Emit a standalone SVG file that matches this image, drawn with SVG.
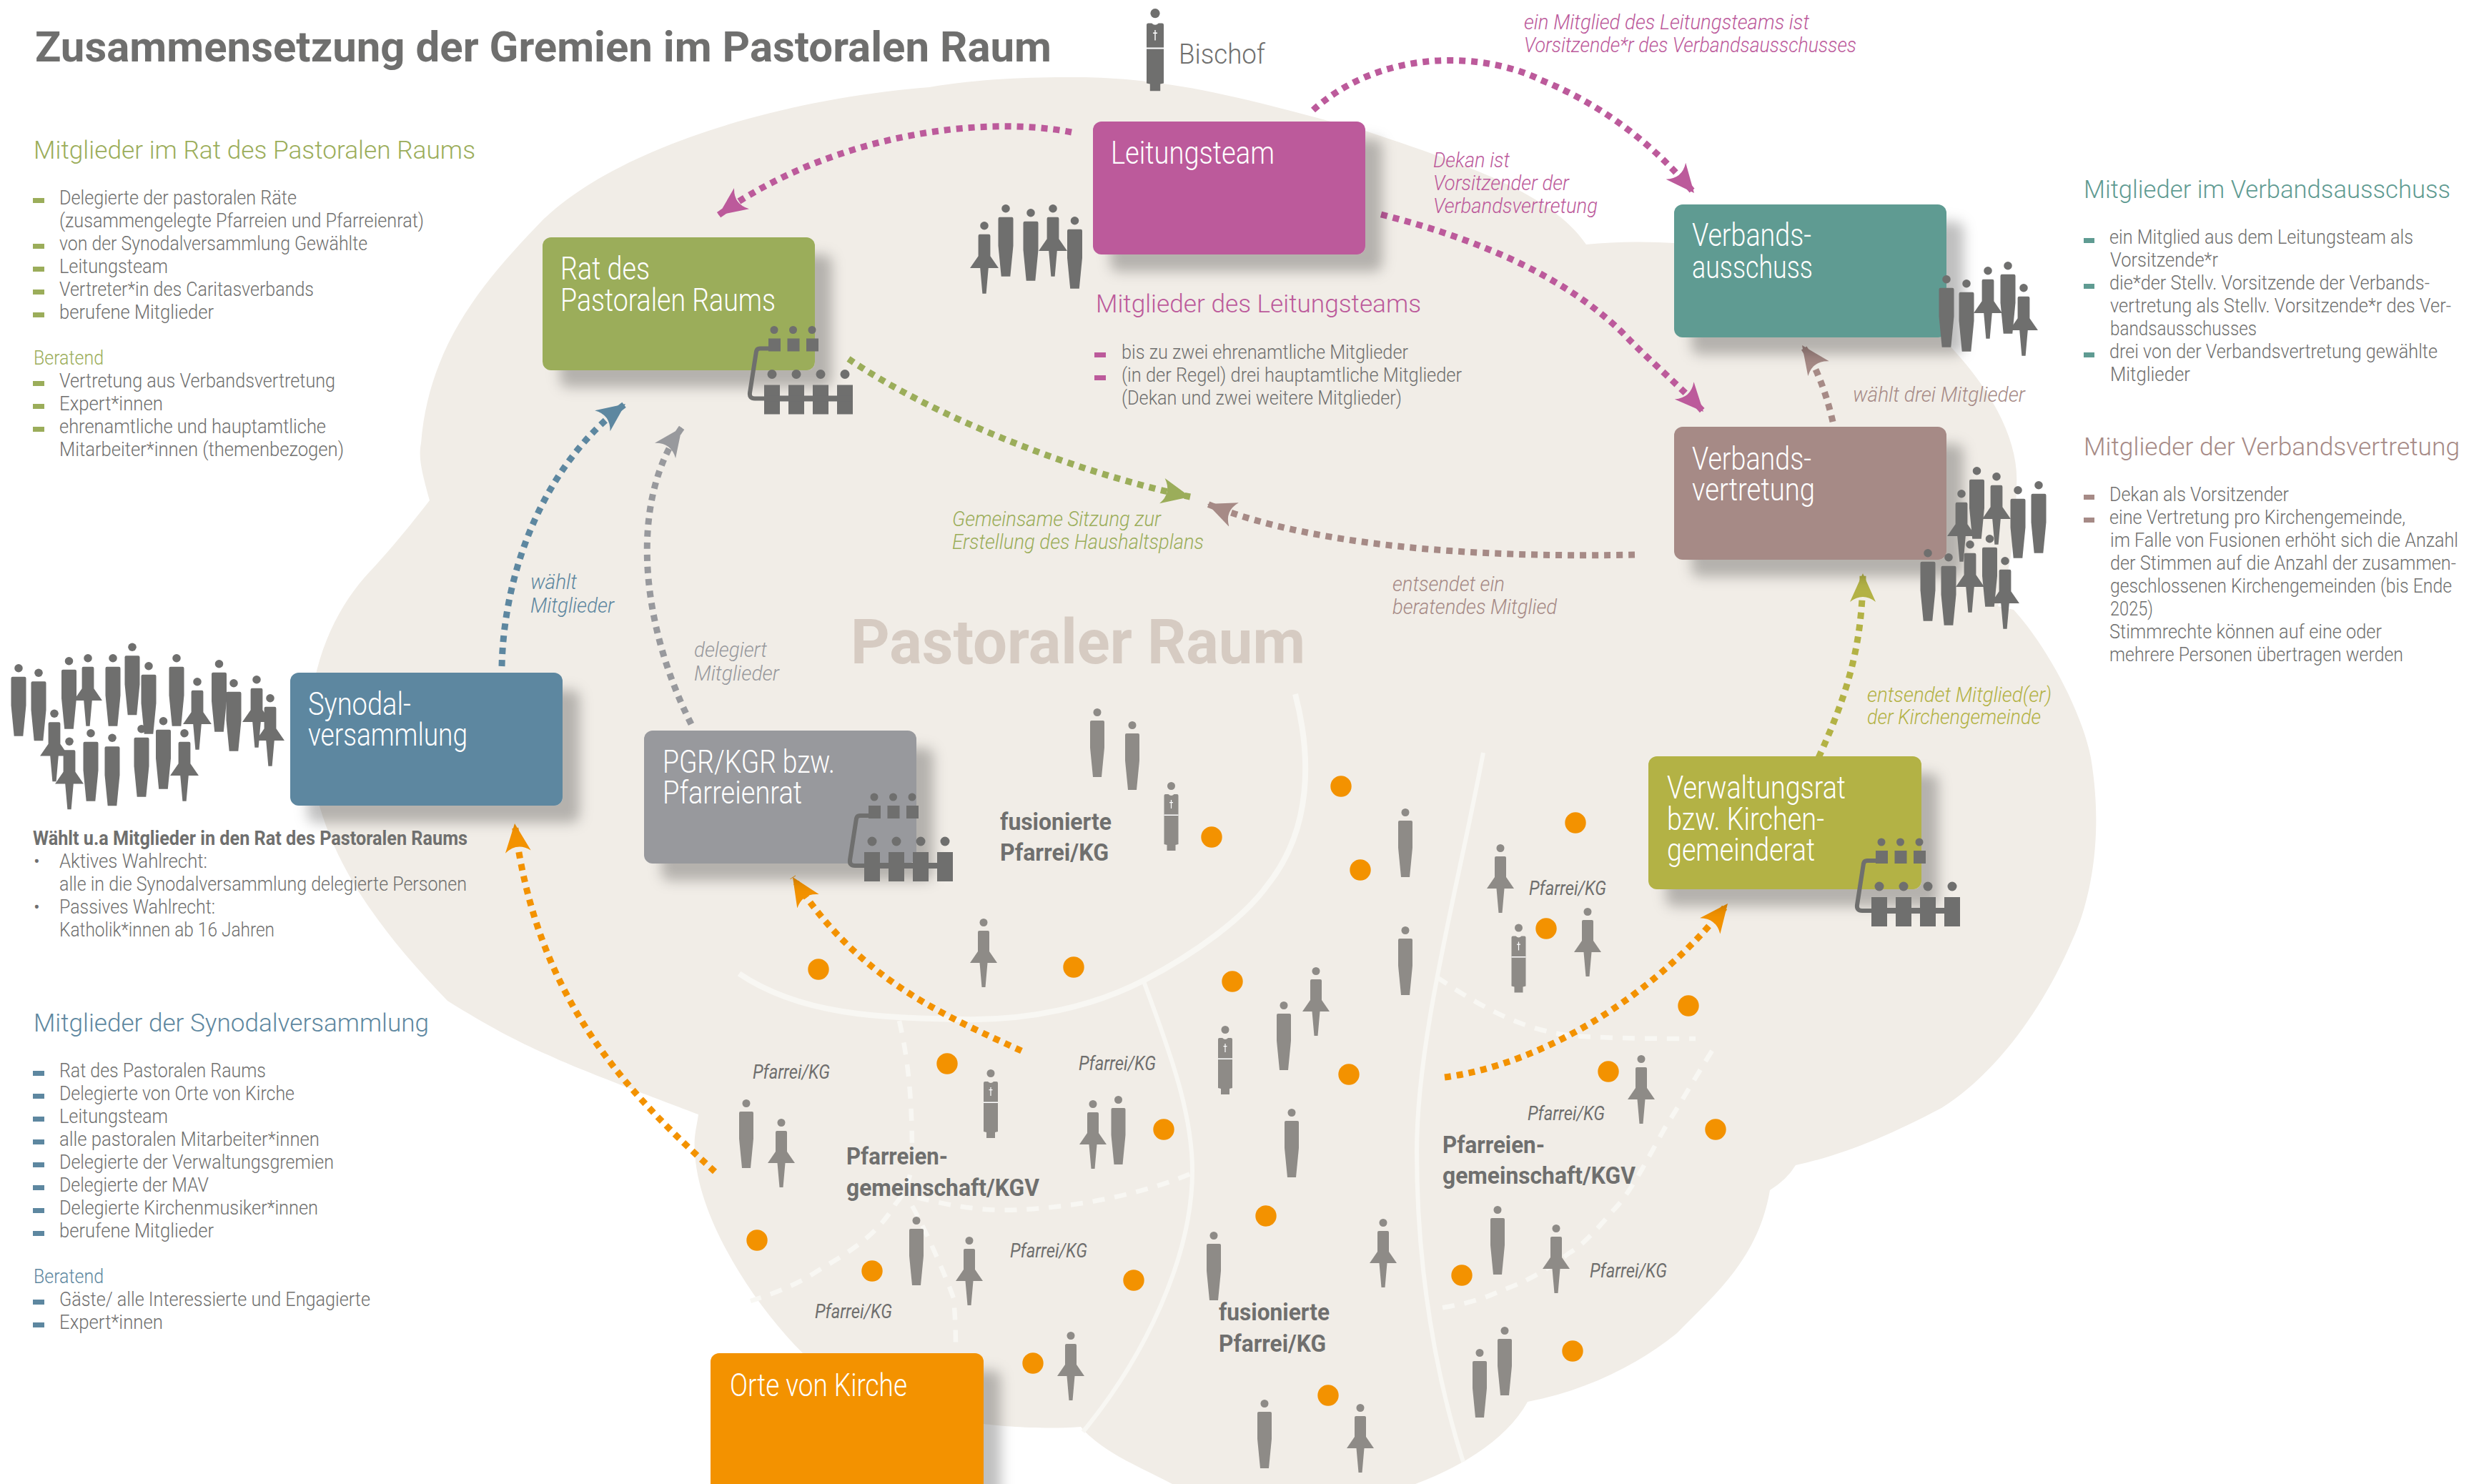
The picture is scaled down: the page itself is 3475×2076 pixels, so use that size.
<svg xmlns="http://www.w3.org/2000/svg" width="3475" height="2076" viewBox="0 0 3475 2076">
<style>
text{font-family:Roboto,"Liberation Sans",sans-serif;fill:#6f6f6e;font-weight:300;transform:translateY(1.5px)}
.t{font-size:60px;font-weight:700}
.h{font-size:35px}
.i{font-size:27px}
.b{font-size:44px;fill:#fff;transform:translateY(3px)}
.s{font-size:33px;font-weight:700}
.p{font-size:27px;font-style:italic;font-weight:400}
.n{font-size:30px;font-style:italic}
.gn{fill:#9bad5a}.pu{fill:#bc5a9b}.te{fill:#5f9b92}.br{fill:#a68a86}.bl{fill:#5d87a0}.gr{fill:#98999d}.ol{fill:#b3b245}
.k{fill:#6f6f6e}.q{fill:#8e8b87}
.wl{fill:none;stroke:#f8f7f3}
.wd{fill:none;stroke:#f8f7f3;stroke-width:6.5;stroke-dasharray:17 14}
.a{fill:none;stroke-width:9;stroke-dasharray:9 8}
.dot{fill:#f39200}
</style>
<defs>
<filter id="sh" x="-15%" y="-15%" width="140%" height="150%"><feDropShadow dx="24" dy="24" stdDeviation="9" flood-color="#000" flood-opacity=".25"/></filter>
<marker id="mpu" markerUnits="userSpaceOnUse" markerWidth="50" markerHeight="50" refX="40" refY="20" orient="auto"><path d="M40 20L0 2Q14 20 0 38Z" fill="#bc5a9b"/></marker>
<marker id="mgn" markerUnits="userSpaceOnUse" markerWidth="50" markerHeight="50" refX="40" refY="20" orient="auto"><path d="M40 20L0 2Q14 20 0 38Z" fill="#9bad5a"/></marker>
<marker id="mbr" markerUnits="userSpaceOnUse" markerWidth="50" markerHeight="50" refX="40" refY="20" orient="auto"><path d="M40 20L0 2Q14 20 0 38Z" fill="#a68a86"/></marker>
<marker id="mol" markerUnits="userSpaceOnUse" markerWidth="50" markerHeight="50" refX="40" refY="20" orient="auto"><path d="M40 20L0 2Q14 20 0 38Z" fill="#b3b245"/></marker>
<marker id="mbl" markerUnits="userSpaceOnUse" markerWidth="50" markerHeight="50" refX="40" refY="20" orient="auto"><path d="M40 20L0 2Q14 20 0 38Z" fill="#5d87a0"/></marker>
<marker id="mgr" markerUnits="userSpaceOnUse" markerWidth="50" markerHeight="50" refX="40" refY="20" orient="auto"><path d="M40 20L0 2Q14 20 0 38Z" fill="#98999d"/></marker>
<marker id="mor" markerUnits="userSpaceOnUse" markerWidth="50" markerHeight="50" refX="40" refY="20" orient="auto"><path d="M40 20L0 2Q14 20 0 38Z" fill="#f39200"/></marker>
<g id="m"><ellipse cx="0" cy="5.5" rx="5.5" ry="5.5"/><path d="M-10 19Q-10 17-8 17H8Q10 17 10 19V55L6 96H-6L-10 55Z"/></g>
<g id="w"><ellipse cx="0" cy="5.5" rx="5.5" ry="5.5"/><path d="M-8 19Q-8 17-6 17H6Q8 17 8 19V46L19 62H5.5L2.5 96H-2.5L-5.5 62H-19L-8 46Z"/></g>
<g id="c"><ellipse cx="0" cy="5.5" rx="5.5" ry="5.5"/><path d="M-10 19Q-10 17-8 17H-4Q0 21 4 17H8Q10 17 10 19V87L6 88V96H-6V88L-10 87Z"/><path d="M-.6 25H.6V37H-.6ZM-2.5 28H2.5V29.2H-2.5ZM-10 45.5H10V47H-10Z" fill="#fff"/></g>
<g id="seats" class="k">
<circle cx="0" cy="0" r="5.5"/><circle cx="26.5" cy="0" r="5.5"/><circle cx="53" cy="0" r="5.5"/>
<rect x="-8" y="12" width="17" height="18"/><rect x="18.5" y="12" width="17" height="18"/><rect x="45" y="12" width="17" height="18"/>
<circle cx="-3" cy="62" r="6.5"/><circle cx="31" cy="62" r="6.5"/><circle cx="65" cy="62" r="6.5"/><circle cx="99" cy="62" r="6.5"/>
<rect x="-14" y="77" width="22" height="41"/><rect x="20" y="77" width="22" height="41"/><rect x="54" y="77" width="22" height="41"/><rect x="88" y="77" width="22" height="41"/>
<rect x="-14" y="92" width="124" height="8"/>
<path d="M-8 26H-20Q-24 26-25 30L-34 88Q-35 96-27 96H-14" fill="none" stroke="#6f6f6e" stroke-width="6"/>
</g>
</defs>

<path id="blob" fill="#f1ede7" d="M1300 122C1370 110 1440 108 1503 108C1640 108 1750 140 1910 183C2050 230 2170 270 2219 342C2280 336 2340 338 2400 345C2500 350 2660 400 2727 483C2790 550 2825 620 2821 680C2820 750 2810 810 2795 848L2817 853C2860 900 2911 990 2925 1060C2945 1180 2920 1270 2900 1313C2850 1430 2780 1510 2716 1550C2640 1590 2580 1615 2512 1630Q2500 1650 2476 1665C2460 1760 2400 1810 2346 1865C2290 1910 2220 1945 2137 1961C2110 2010 2050 2050 1980 2076L1640 2076C1590 2050 1540 2030 1512 1996C1460 2000 1400 1995 1376 1992C1280 1975 1190 1950 1123 1893C1050 1820 975 1700 972 1610C970 1590 975 1575 977 1559C940 1545 820 1500 776 1480C730 1460 690 1440 626 1400C520 1290 440 1180 432 1040C430 930 470 850 517 800C545 770 570 740 601 700C590 660 585 640 589 620C600 480 680 390 759 308C860 210 1080 140 1300 122Z"/>

<g id="parish-lines">
<path class="wl" stroke-width="8" d="M1812 971C1835 1060 1835 1160 1774 1237C1740 1285 1670 1335 1601 1371C1530 1408 1440 1428 1346 1426C1230 1424 1120 1420 1034 1362"/>
<path class="wl" stroke-width="6" d="M1600 1373C1640 1480 1668 1560 1668 1638C1668 1760 1600 1900 1515 2003"/>
<path class="wl" stroke-width="6" d="M2075 1053C2040 1240 1982 1450 1982 1610C1982 1780 2010 1930 2047 2045"/>
<path class="wd" d="M1258 1428C1275 1500 1276 1570 1276 1620C1275 1650 1265 1670 1253 1684C1225 1730 1190 1750 1142 1779C1110 1800 1080 1810 1050 1820"/>
<path class="wd" d="M1276 1687C1295 1720 1325 1790 1334 1816C1337 1850 1337 1870 1337 1889"/>
<path class="wd" d="M1283 1675C1340 1690 1390 1695 1430 1692C1510 1688 1600 1670 1668 1641"/>
<path class="wd" d="M2010 1367C2060 1400 2120 1440 2200 1449C2260 1453 2320 1453 2372 1453"/>
<path class="wd" d="M2395 1470C2370 1510 2350 1545 2329 1578C2300 1630 2280 1670 2257 1693C2230 1725 2210 1745 2195 1753C2160 1780 2130 1795 2101 1805C2070 1820 2040 1826 2007 1831"/>
</g>

<g id="title"><text class="t" x="49" y="84" textLength="1422" lengthAdjust="spacingAndGlyphs">Zusammensetzung der Gremien im Pastoralen Raum</text></g>
<g id="center-label"><text x="1190" y="926" font-size="88" style="fill:#d6cbc2;font-weight:700" textLength="636" lengthAdjust="spacingAndGlyphs">Pastoraler Raum</text></g>

<g id="dots">
<circle class="dot" cx="1145" cy="1356" r="14.7"/><circle class="dot" cx="1502" cy="1353" r="14.7"/><circle class="dot" cx="1876" cy="1100" r="14.7"/><circle class="dot" cx="1695" cy="1171" r="14.7"/><circle class="dot" cx="1903" cy="1217" r="14.7"/><circle class="dot" cx="1724" cy="1373" r="14.7"/><circle class="dot" cx="1325" cy="1488" r="14.7"/><circle class="dot" cx="1887" cy="1503" r="14.7"/><circle class="dot" cx="2204" cy="1151" r="14.7"/><circle class="dot" cx="2163" cy="1299" r="14.7"/><circle class="dot" cx="2362" cy="1407" r="14.7"/><circle class="dot" cx="2250" cy="1499" r="14.7"/><circle class="dot" cx="1628" cy="1580" r="14.7"/><circle class="dot" cx="1059" cy="1735" r="14.7"/><circle class="dot" cx="1220" cy="1778" r="14.7"/><circle class="dot" cx="1586" cy="1791" r="14.7"/><circle class="dot" cx="1771" cy="1701" r="14.7"/><circle class="dot" cx="1445" cy="1907" r="14.7"/><circle class="dot" cx="1858" cy="1952" r="14.7"/><circle class="dot" cx="2400" cy="1580" r="14.7"/><circle class="dot" cx="2045" cy="1784" r="14.7"/><circle class="dot" cx="2200" cy="1890" r="14.7"/>
</g>

<g id="parish-people" class="q">
<use href="#m" x="1535" y="991"/><use href="#m" x="1584" y="1009"/><use href="#c" x="1638.5" y="1094"/><use href="#w" x="1376" y="1285"/><use href="#c" x="1714" y="1435"/><use href="#m" x="1796" y="1401"/><use href="#w" x="1841" y="1353"/><use href="#c" x="1386" y="1496"/><use href="#m" x="1044" y="1538"/><use href="#w" x="1093" y="1565"/><use href="#w" x="1529" y="1539"/><use href="#m" x="1564.5" y="1533"/><use href="#m" x="1807" y="1551"/><use href="#m" x="1282" y="1702"/><use href="#w" x="1356" y="1730"/><use href="#m" x="1698" y="1723"/><use href="#w" x="1498" y="1863"/><use href="#m" x="1769" y="1958"/><use href="#w" x="1903" y="1964"/><use href="#m" x="1966" y="1131"/><use href="#w" x="2099" y="1181"/><use href="#c" x="2124.5" y="1292.5"/><use href="#w" x="2221" y="1270"/><use href="#m" x="1966" y="1296"/><use href="#w" x="2296" y="1476"/><use href="#m" x="2095" y="1687"/><use href="#w" x="2177" y="1713"/><use href="#w" x="1935" y="1705"/><use href="#m" x="2070" y="1887"/><use href="#m" x="2105" y="1856"/>
</g>

<g id="parish-labels">
<text class="p" x="1053" y="1507" textLength="108" lengthAdjust="spacingAndGlyphs">Pfarrei/KG</text>
<text class="p" x="1509" y="1495" textLength="108" lengthAdjust="spacingAndGlyphs">Pfarrei/KG</text>
<text class="p" x="2139" y="1250" textLength="108" lengthAdjust="spacingAndGlyphs">Pfarrei/KG</text>
<text class="p" x="1413" y="1757" textLength="108" lengthAdjust="spacingAndGlyphs">Pfarrei/KG</text>
<text class="p" x="1140" y="1842" textLength="108" lengthAdjust="spacingAndGlyphs">Pfarrei/KG</text>
<text class="p" x="2137" y="1565" textLength="108" lengthAdjust="spacingAndGlyphs">Pfarrei/KG</text>
<text class="p" x="2224" y="1785" textLength="108" lengthAdjust="spacingAndGlyphs">Pfarrei/KG</text>
<text class="s" x="1399" y="1159" textLength="156" lengthAdjust="spacingAndGlyphs">fusionierte</text>
<text class="s" x="1399" y="1202" textLength="152" lengthAdjust="spacingAndGlyphs">Pfarrei/KG</text>
<text class="s" x="1184" y="1627" textLength="142" lengthAdjust="spacingAndGlyphs">Pfarreien-</text>
<text class="s" x="1184" y="1671" textLength="270" lengthAdjust="spacingAndGlyphs">gemeinschaft/KGV</text>
<text class="s" x="1705" y="1845" textLength="155" lengthAdjust="spacingAndGlyphs">fusionierte</text>
<text class="s" x="1705" y="1889" textLength="150" lengthAdjust="spacingAndGlyphs">Pfarrei/KG</text>
<text class="s" x="2018" y="1611" textLength="143" lengthAdjust="spacingAndGlyphs">Pfarreien-</text>
<text class="s" x="2018" y="1654" textLength="270" lengthAdjust="spacingAndGlyphs">gemeinschaft/KGV</text>
</g>

<g id="connectors">
<path class="a" stroke="#bc5a9b" marker-end="url(#mpu)" d="M1499 185C1370 160 1160 190 1005 301"/>
<path class="a" stroke="#bc5a9b" marker-end="url(#mpu)" d="M1837 154C1930 70 2070 70 2156 112C2250 150 2320 210 2370 270"/>
<path class="a" stroke="#bc5a9b" marker-end="url(#mpu)" d="M1932 300C2070 335 2200 390 2282 478C2325 520 2355 545 2383 576"/>
<path class="a" stroke="#9bad5a" marker-end="url(#mgn)" d="M1187 502C1300 580 1500 660 1665 695"/>
<path class="a" stroke="#a68a86" marker-end="url(#mbr)" d="M2287 776C2100 780 1850 770 1689 705"/>
<path class="a" stroke="#a68a86" marker-end="url(#mbr)" d="M2564 590C2555 550 2540 510 2521 483"/>
<path class="a" stroke="#b3b245" marker-end="url(#mol)" d="M2544 1060C2585 970 2606 900 2606 802"/>
<path class="a" stroke="#5d87a0" marker-end="url(#mbl)" d="M702 932C705 800 760 650 875 565"/>
<path class="a" stroke="#98999d" marker-end="url(#mgr)" d="M967 1013C895 870 880 700 954 598"/>
<path class="a" stroke="#f39200" marker-end="url(#mor)" d="M1000 1639C880 1530 750 1400 720 1152"/>
<path class="a" stroke="#f39200" marker-end="url(#mor)" d="M1429 1470C1320 1420 1200 1370 1109 1227"/>
<path class="a" stroke="#f39200" marker-end="url(#mor)" d="M2021 1507C2150 1490 2310 1400 2417 1264"/>
</g>

<g id="connector-labels">
<text class="n pu" x="2132" y="39" textLength="399" lengthAdjust="spacingAndGlyphs">ein Mitglied des Leitungsteams ist</text>
<text class="n pu" x="2132" y="71" textLength="465" lengthAdjust="spacingAndGlyphs">Vorsitzende*r des Verbandsausschusses</text>
<text class="n pu" x="2005" y="232" textLength="107" lengthAdjust="spacingAndGlyphs">Dekan ist</text>
<text class="n pu" x="2005" y="264" textLength="190" lengthAdjust="spacingAndGlyphs">Vorsitzender der</text>
<text class="n pu" x="2005" y="296" textLength="230" lengthAdjust="spacingAndGlyphs">Verbandsvertretung</text>
<text class="n br" x="2592" y="560" textLength="241" lengthAdjust="spacingAndGlyphs">wählt drei Mitglieder</text>
<text class="n ol" x="2612" y="980" textLength="258" lengthAdjust="spacingAndGlyphs">entsendet Mitglied(er)</text>
<text class="n ol" x="2612" y="1011" textLength="243" lengthAdjust="spacingAndGlyphs">der Kirchengemeinde</text>
<text class="n br" x="1948" y="825" textLength="157" lengthAdjust="spacingAndGlyphs">entsendet ein</text>
<text class="n br" x="1948" y="857" textLength="230" lengthAdjust="spacingAndGlyphs">beratendes Mitglied</text>
<text class="n gn" x="1332" y="734" textLength="292" lengthAdjust="spacingAndGlyphs">Gemeinsame Sitzung zur</text>
<text class="n gn" x="1332" y="766" textLength="352" lengthAdjust="spacingAndGlyphs">Erstellung des Haushaltsplans</text>
<text class="n bl" x="742" y="822" textLength="65" lengthAdjust="spacingAndGlyphs">wählt</text>
<text class="n bl" x="742" y="855" textLength="117" lengthAdjust="spacingAndGlyphs">Mitglieder</text>
<text class="n gr" x="971" y="917" textLength="102" lengthAdjust="spacingAndGlyphs">delegiert</text>
<text class="n gr" x="971" y="950" textLength="119" lengthAdjust="spacingAndGlyphs">Mitglieder</text>
</g>

<g id="node-bischof" class="k"><use href="#c" transform="translate(1616 12) scale(1.2)"/><text x="1649" y="87" font-size="38" textLength="121" lengthAdjust="spacingAndGlyphs">Bischof</text></g>

<g id="node-leitungsteam">
<rect class="pu" x="1529" y="170" width="381" height="186" rx="12" filter="url(#sh)"/>
<text class="b" x="1554" y="226" textLength="229" lengthAdjust="spacingAndGlyphs">Leitungsteam</text>
<g class="k"><use href="#w" transform="translate(1377 310) scale(1.05)"/><use href="#m" transform="translate(1407 286) scale(1.05)"/><use href="#m" transform="translate(1442 292) scale(1.05)"/><use href="#w" transform="translate(1473 286) scale(1.05)"/><use href="#m" transform="translate(1503.5 303) scale(1.05)"/></g>
<text class="h pu" x="1533" y="435" textLength="455" lengthAdjust="spacingAndGlyphs">Mitglieder des Leitungsteams</text>
<rect class="pu" x="1531" y="493" width="16" height="7"/><rect class="pu" x="1531" y="525" width="16" height="7"/>
<text class="i" x="1569" y="500" textLength="401" lengthAdjust="spacingAndGlyphs">bis zu zwei ehrenamtliche Mitglieder</text>
<text class="i" x="1569" y="532" textLength="476" lengthAdjust="spacingAndGlyphs">(in der Regel) drei hauptamtliche Mitglieder</text>
<text class="i" x="1569" y="564" textLength="392" lengthAdjust="spacingAndGlyphs">(Dekan und zwei weitere Mitglieder)</text>
</g>

<g id="node-rat">
<rect class="gn" x="759" y="332" width="381" height="186" rx="12" filter="url(#sh)"/>
<text class="b" x="784" y="388" textLength="125" lengthAdjust="spacingAndGlyphs">Rat des</text>
<text class="b" x="784" y="432" textLength="301" lengthAdjust="spacingAndGlyphs">Pastoralen Raums</text>
<use href="#seats" x="1083" y="461.5"/>
</g>

<g id="node-verbandsausschuss">
<rect class="te" x="2342" y="286" width="381" height="186" rx="12" filter="url(#sh)"/>
<text class="b" x="2367" y="341" textLength="167" lengthAdjust="spacingAndGlyphs">Verbands-</text>
<text class="b" x="2367" y="386" textLength="169" lengthAdjust="spacingAndGlyphs">ausschuss</text>
<g class="k"><use href="#m" transform="translate(2723 385) scale(1.05)"/><use href="#m" transform="translate(2751 391) scale(1.05)"/><use href="#w" transform="translate(2781 373) scale(1.05)"/><use href="#m" transform="translate(2809 366) scale(1.05)"/><use href="#w" transform="translate(2831 397) scale(1.05)"/></g>
</g>

<g id="node-verbandsvertretung">
<rect class="br" x="2342" y="597" width="381" height="186" rx="12" filter="url(#sh)"/>
<text class="b" x="2367" y="654" textLength="167" lengthAdjust="spacingAndGlyphs">Verbands-</text>
<text class="b" x="2367" y="697" textLength="172" lengthAdjust="spacingAndGlyphs">vertretung</text>
<g class="k"><use href="#w" transform="translate(2744 685) scale(1.05)"/><use href="#m" transform="translate(2765.5 653) scale(1.05)"/><use href="#w" transform="translate(2793 661) scale(1.05)"/><use href="#m" transform="translate(2823 680) scale(1.05)"/><use href="#m" transform="translate(2852 673) scale(1.05)"/><use href="#m" transform="translate(2697 768) scale(1.05)"/><use href="#m" transform="translate(2726 774) scale(1.05)"/><use href="#w" transform="translate(2756 756) scale(1.05)"/><use href="#m" transform="translate(2783.5 748) scale(1.05)"/><use href="#w" transform="translate(2805 779) scale(1.05)"/></g>
</g>

<g id="node-synodalversammlung">
<rect class="bl" x="406" y="941" width="381" height="186" rx="12" filter="url(#sh)"/>
<text class="b" x="431" y="997" textLength="144" lengthAdjust="spacingAndGlyphs">Synodal-</text>
<text class="b" x="431" y="1040" textLength="223" lengthAdjust="spacingAndGlyphs">versammlung</text>
<g class="k"><use href="#m" transform="translate(26 929) scale(1.05)"/><use href="#m" transform="translate(54 935.5) scale(1.05)"/><use href="#m" transform="translate(96.5 919) scale(1.05)"/><use href="#m" transform="translate(158 915) scale(1.05)"/><use href="#m" transform="translate(185 899.5) scale(1.05)"/><use href="#m" transform="translate(208 926) scale(1.05)"/><use href="#m" transform="translate(247 915) scale(1.05)"/><use href="#m" transform="translate(306.5 923) scale(1.05)"/><use href="#m" transform="translate(327 950) scale(1.05)"/><use href="#m" transform="translate(127 1020) scale(1.05)"/><use href="#m" transform="translate(157 1026.5) scale(1.05)"/><use href="#m" transform="translate(198 1014) scale(1.05)"/><use href="#m" transform="translate(228.5 1003) scale(1.05)"/><use href="#w" transform="translate(76 992.5) scale(1.05)"/><use href="#w" transform="translate(123 915) scale(1.05)"/><use href="#w" transform="translate(97 1031.5) scale(1.05)"/><use href="#w" transform="translate(276 948) scale(1.05)"/><use href="#w" transform="translate(359 945) scale(1.05)"/><use href="#w" transform="translate(378 971) scale(1.05)"/><use href="#w" transform="translate(258 1020) scale(1.05)"/></g>
</g>

<g id="node-pgr">
<rect class="gr" x="901" y="1022" width="381" height="186" rx="12" filter="url(#sh)"/>
<text class="b" x="927" y="1078" textLength="241" lengthAdjust="spacingAndGlyphs">PGR/KGR bzw.</text>
<text class="b" x="927" y="1121" textLength="195" lengthAdjust="spacingAndGlyphs">Pfarreienrat</text>
<use href="#seats" x="1223" y="1115"/>
</g>

<g id="node-verwaltungsrat">
<rect class="ol" x="2306" y="1058" width="382" height="186" rx="12" filter="url(#sh)"/>
<text class="b" x="2332" y="1114" textLength="250" lengthAdjust="spacingAndGlyphs">Verwaltungsrat</text>
<text class="b" x="2332" y="1158" textLength="220" lengthAdjust="spacingAndGlyphs">bzw. Kirchen-</text>
<text class="b" x="2332" y="1201" textLength="207" lengthAdjust="spacingAndGlyphs">gemeinderat</text>
<use href="#seats" x="2632" y="1178"/>
</g>

<g id="node-orte">
<rect x="994" y="1893" width="382" height="200" rx="12" fill="#f39200" filter="url(#sh)"/>
<text class="b" x="1021" y="1950" textLength="248" lengthAdjust="spacingAndGlyphs">Orte von Kirche</text>
</g>

<g id="legend-rat">
<text class="h gn" x="47" y="220" textLength="618" lengthAdjust="spacingAndGlyphs">Mitglieder im Rat des Pastoralen Raums</text>
<rect class="gn" x="46" y="277" width="16" height="7"/><rect class="gn" x="46" y="341" width="16" height="7"/><rect class="gn" x="46" y="373" width="16" height="7"/><rect class="gn" x="46" y="405" width="16" height="7"/><rect class="gn" x="46" y="437" width="16" height="7"/><rect class="gn" x="46" y="533" width="16" height="7"/><rect class="gn" x="46" y="565" width="16" height="7"/><rect class="gn" x="46" y="597" width="16" height="7"/>
<text class="i" x="83" y="284" textLength="332" lengthAdjust="spacingAndGlyphs">Delegierte der pastoralen Räte</text>
<text class="i" x="83" y="316" textLength="510" lengthAdjust="spacingAndGlyphs">(zusammengelegte Pfarreien und Pfarreienrat)</text>
<text class="i" x="83" y="348" textLength="431" lengthAdjust="spacingAndGlyphs">von der Synodalversammlung Gewählte</text>
<text class="i" x="83" y="380" textLength="152" lengthAdjust="spacingAndGlyphs">Leitungsteam</text>
<text class="i" x="83" y="412" textLength="356" lengthAdjust="spacingAndGlyphs">Vertreter*in des Caritasverbands</text>
<text class="i" x="83" y="444" textLength="216" lengthAdjust="spacingAndGlyphs">berufene Mitglieder</text>
<text class="i gn" x="47" y="508" textLength="98" lengthAdjust="spacingAndGlyphs">Beratend</text>
<text class="i" x="83" y="540" textLength="386" lengthAdjust="spacingAndGlyphs">Vertretung aus Verbandsvertretung</text>
<text class="i" x="83" y="572" textLength="145" lengthAdjust="spacingAndGlyphs">Expert*innen</text>
<text class="i" x="83" y="604" textLength="373" lengthAdjust="spacingAndGlyphs">ehrenamtliche und hauptamtliche</text>
<text class="i" x="83" y="636" textLength="398" lengthAdjust="spacingAndGlyphs">Mitarbeiter*innen (themenbezogen)</text>
</g>

<g id="legend-wahl">
<text class="i" style="font-weight:700" x="46" y="1180" textLength="608" lengthAdjust="spacingAndGlyphs">Wählt u.a Mitglieder in den Rat des Pastoralen Raums</text>
<text class="i" x="47" y="1212">•</text><text class="i" x="47" y="1276">•</text>
<text class="i" x="83" y="1212" textLength="207" lengthAdjust="spacingAndGlyphs">Aktives Wahlrecht:</text>
<text class="i" x="83" y="1244" textLength="570" lengthAdjust="spacingAndGlyphs">alle in die Synodalversammlung delegierte Personen</text>
<text class="i" x="83" y="1276" textLength="218" lengthAdjust="spacingAndGlyphs">Passives Wahlrecht:</text>
<text class="i" x="83" y="1308" textLength="301" lengthAdjust="spacingAndGlyphs">Katholik*innen ab 16 Jahren</text>
</g>

<g id="legend-synodal">
<text class="h bl" x="47" y="1441" textLength="553" lengthAdjust="spacingAndGlyphs">Mitglieder der Synodalversammlung</text>
<rect class="bl" x="46" y="1498" width="16" height="7"/><rect class="bl" x="46" y="1530" width="16" height="7"/><rect class="bl" x="46" y="1562" width="16" height="7"/><rect class="bl" x="46" y="1594" width="16" height="7"/><rect class="bl" x="46" y="1626" width="16" height="7"/><rect class="bl" x="46" y="1658" width="16" height="7"/><rect class="bl" x="46" y="1690" width="16" height="7"/><rect class="bl" x="46" y="1722" width="16" height="7"/><rect class="bl" x="46" y="1818" width="16" height="7"/><rect class="bl" x="46" y="1850" width="16" height="7"/>
<text class="i" x="83" y="1505" textLength="289" lengthAdjust="spacingAndGlyphs">Rat des Pastoralen Raums</text>
<text class="i" x="83" y="1537" textLength="329" lengthAdjust="spacingAndGlyphs">Delegierte von Orte von Kirche</text>
<text class="i" x="83" y="1569" textLength="152" lengthAdjust="spacingAndGlyphs">Leitungsteam</text>
<text class="i" x="83" y="1601" textLength="364" lengthAdjust="spacingAndGlyphs">alle pastoralen Mitarbeiter*innen</text>
<text class="i" x="83" y="1633" textLength="384" lengthAdjust="spacingAndGlyphs">Delegierte der Verwaltungsgremien</text>
<text class="i" x="83" y="1665" textLength="209" lengthAdjust="spacingAndGlyphs">Delegierte der MAV</text>
<text class="i" x="83" y="1697" textLength="362" lengthAdjust="spacingAndGlyphs">Delegierte Kirchenmusiker*innen</text>
<text class="i" x="83" y="1729" textLength="216" lengthAdjust="spacingAndGlyphs">berufene Mitglieder</text>
<text class="i bl" x="47" y="1793" textLength="98" lengthAdjust="spacingAndGlyphs">Beratend</text>
<text class="i" x="83" y="1825" textLength="435" lengthAdjust="spacingAndGlyphs">Gäste/ alle Interessierte und Engagierte</text>
<text class="i" x="83" y="1857" textLength="145" lengthAdjust="spacingAndGlyphs">Expert*innen</text>
</g>

<g id="legend-ausschuss">
<text class="h te" x="2915" y="275" textLength="513" lengthAdjust="spacingAndGlyphs">Mitglieder im Verbandsausschuss</text>
<rect class="te" x="2915" y="333" width="15" height="7"/><rect class="te" x="2915" y="397" width="15" height="7"/><rect class="te" x="2915" y="493" width="15" height="7"/>
<text class="i" x="2951" y="339" textLength="425" lengthAdjust="spacingAndGlyphs">ein Mitglied aus dem Leitungsteam als</text>
<text class="i" x="2952" y="371" textLength="151" lengthAdjust="spacingAndGlyphs">Vorsitzende*r</text>
<text class="i" x="2951" y="403" textLength="448" lengthAdjust="spacingAndGlyphs">die*der Stellv. Vorsitzende der Verbands-</text>
<text class="i" x="2952" y="435" textLength="477" lengthAdjust="spacingAndGlyphs">vertretung als Stellv. Vorsitzende*r des Ver-</text>
<text class="i" x="2952" y="467" textLength="205" lengthAdjust="spacingAndGlyphs">bandsausschusses</text>
<text class="i" x="2951" y="499" textLength="459" lengthAdjust="spacingAndGlyphs">drei von der Verbandsvertretung gewählte</text>
<text class="i" x="2952" y="531" textLength="112" lengthAdjust="spacingAndGlyphs">Mitglieder</text>
</g>

<g id="legend-vertretung">
<text class="h br" x="2915" y="635" textLength="526" lengthAdjust="spacingAndGlyphs">Mitglieder der Verbandsvertretung</text>
<rect class="br" x="2915" y="692" width="15" height="7"/><rect class="br" x="2915" y="724" width="15" height="7"/>
<text class="i" x="2951" y="699" textLength="251" lengthAdjust="spacingAndGlyphs">Dekan als Vorsitzender</text>
<text class="i" x="2951" y="731" textLength="414" lengthAdjust="spacingAndGlyphs">eine Vertretung pro Kirchengemeinde,</text>
<text class="i" x="2952" y="763" textLength="487" lengthAdjust="spacingAndGlyphs">im Falle von Fusionen erhöht sich die Anzahl</text>
<text class="i" x="2952" y="795" textLength="484" lengthAdjust="spacingAndGlyphs">der Stimmen auf die Anzahl der zusammen-</text>
<text class="i" x="2952" y="827" textLength="478" lengthAdjust="spacingAndGlyphs">geschlossenen Kirchengemeinden (bis Ende</text>
<text class="i" x="2952" y="859" textLength="60" lengthAdjust="spacingAndGlyphs">2025)</text>
<text class="i" x="2951" y="891" textLength="381" lengthAdjust="spacingAndGlyphs">Stimmrechte können auf eine oder</text>
<text class="i" x="2951" y="923" textLength="411" lengthAdjust="spacingAndGlyphs">mehrere Personen übertragen werden</text>
</g>
</svg>
